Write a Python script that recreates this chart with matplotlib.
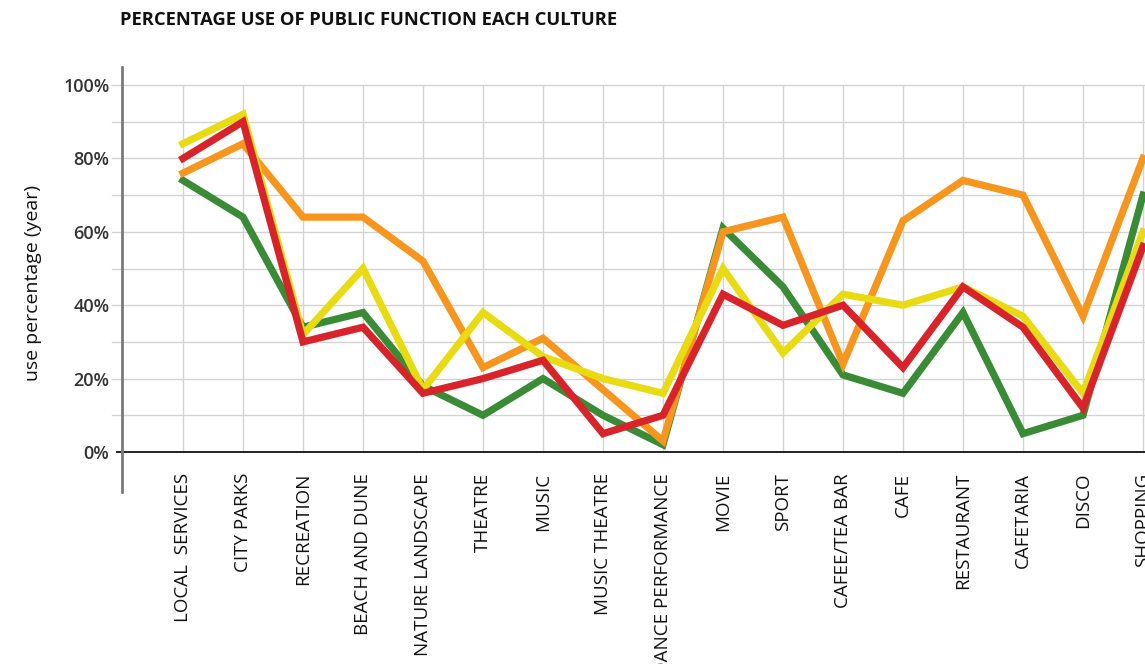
import matplotlib
matplotlib.use("Agg")
import matplotlib.pyplot as plt

categories = ["LOCAL  SERVICES", "CITY PARKS", "RECREATION", "BEACH AND DUNE",
              "NATURE LANDSCAPE", "THEATRE", "MUSIC", "MUSIC THEATRE",
              "DANCE PERFORMANCE", "MOVIE", "SPORT", "CAFEE/TEA BAR", "CAFE",
              "RESTAURANT", "CAFETARIA", "DISCO", "SHOPPING"]

green = [74, 64, 34, 38, 18, 10, 20, 10, 2, 61, 45, 21, 16, 38, 5, 10, 70]
orange = [76, 84, 64, 64, 52, 23, 31, 17, 3, 60, 64, 24, 63, 74, 70, 37, 80]
yellow = [84, 92, 32, 50, 17, 38, 26, 20, 16, 50, 27, 43, 40, 45, 37, 16, 60]
red = [80, 90, 30, 34, 16, 20, 25, 5, 10, 43, 34.5, 40, 23, 45, 34, 12, 56]

y_ticks = [0, 20, 40, 60, 80, 100]
y_ticklabels = ["0%", "20%", "40%", "60%", "80%", "100%"]

FONT = ["Open Sans", "DejaVu Sans"]
plt.rcParams['font.family'] = FONT

W, H = 1145, 664
fig = plt.figure(figsize=(W / 100, H / 100), dpi=100)
ax = fig.add_axes([122 / W, (H - 492) / H, 1 - 122 / W, 425 / H])

x = list(range(len(categories)))
ax.set_xlim(-61 / 60, 16 + 2 / 60)
ax.set_ylim(-40 / 3.67, 100 + 18 / 3.67)

# grid
for v in range(10, 101, 10):
    ax.plot([-71 / 60, 16.1], [v, v], color="#d3d3d3", lw=1.0, clip_on=False, zorder=1)
for xi in x:
    ax.plot([xi, xi], [0, 100], color="#d3d3d3", lw=1.0, zorder=1)
ax.plot([-66 / 60, 16.1], [0, 0], color="#222222", lw=1.4, clip_on=False, zorder=2)

lw = 5.2
ax.plot(x, green, color="#3a8b35", lw=lw, solid_joinstyle="miter", zorder=3)
ax.plot(x, orange, color="#f7961f", lw=lw, solid_joinstyle="miter", zorder=4)
ax.plot(x, yellow, color="#e8db12", lw=lw, solid_joinstyle="miter", zorder=5)
ax.plot(x, red, color="#d8232a", lw=lw, solid_joinstyle="miter", zorder=6)

for s in ["top", "right", "bottom"]:
    ax.spines[s].set_visible(False)
ax.spines["left"].set_color("#7a7a7a")
ax.spines["left"].set_linewidth(2.0)

ax.set_yticks(y_ticks)
ax.set_yticklabels(y_ticklabels, fontsize=13, color="#333333", fontweight="semibold")
ax.tick_params(axis="y", length=0, pad=9)

ax.set_xticks(x)
ax.set_xticklabels(categories, rotation=90, fontsize=13.5, color="#111111",
                   va="top", ha="center")
ax.tick_params(axis="x", length=0, pad=-13.7)

fig.text(33 / W, 1 - 283 / H, "use percentage (year)", rotation=90, fontsize=14,
         ha="center", va="center", color="#111111")
fig.text(120 / W, 1 - 20 / H, "PERCENTAGE USE OF PUBLIC FUNCTION EACH CULTURE",
         fontsize=13.2, fontweight="bold", ha="left", va="center", color="#111111")

fig.savefig("out.png", dpi=100)
